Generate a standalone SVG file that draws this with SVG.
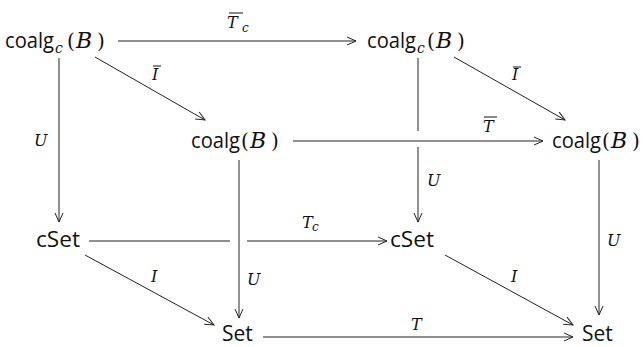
<svg xmlns="http://www.w3.org/2000/svg" width="643" height="347" viewBox="0 0 643 347">
<style>
.sans{font-family:"Open Sans","Liberation Sans",sans-serif;font-size:21px;fill:#111}
.math{font-family:"DejaVu Serif","Liberation Serif",serif;font-style:italic;font-size:22px;fill:#111}
.up{font-family:"DejaVu Serif","Liberation Serif",serif;font-style:normal;font-size:20px;fill:#111}
.sub{font-family:"DejaVu Serif","Liberation Serif",serif;font-style:italic;font-size:14px;fill:#111}
.lbl{font-family:"DejaVu Serif","Liberation Serif",serif;font-style:italic;font-size:16px;fill:#111}
.lsub{font-family:"DejaVu Serif","Liberation Serif",serif;font-style:italic;font-size:12px;fill:#111}
.edge{stroke:#222;stroke-width:1;fill:none}
.bar{stroke:#111;stroke-width:1}
</style>
<defs>
<marker id="arr" markerUnits="userSpaceOnUse" markerWidth="14" markerHeight="12" viewBox="-10 -6 12 12" refX="0" refY="0" orient="auto">
<path d="M-9,-4 L0,0 L-9,4" fill="none" stroke="#222" stroke-width="1"/>
</marker>
</defs>

<g id="connectors">
<path class="edge" d="M118,41 H356" marker-end="url(#arr)"/>
<path class="edge" d="M95,57 L205,120" marker-end="url(#arr)"/>
<path class="edge" d="M454,57 L565,120" marker-end="url(#arr)"/>
<path class="edge" d="M59,58 V222" marker-end="url(#arr)"/>
<path class="edge" d="M418,58 V131"/>
<path class="edge" d="M418,147 V222" marker-end="url(#arr)"/>
<path class="edge" d="M293,141 H543" marker-end="url(#arr)"/>
<path class="edge" d="M239,160 V318" marker-end="url(#arr)"/>
<path class="edge" d="M599,160 V315" marker-end="url(#arr)"/>
<path class="edge" d="M89,241 H230"/>
<path class="edge" d="M247,241 H387" marker-end="url(#arr)"/>
<path class="edge" d="M85,255 L214,325" marker-end="url(#arr)"/>
<path class="edge" d="M445,255 L573,325" marker-end="url(#arr)"/>
<path class="edge" d="M263,337 H573" marker-end="url(#arr)"/>

<g id="labels">
<text class="lbl" x="227" y="28">T</text><text class="lsub" x="242" y="32">c</text>
<line class="bar" x1="229" y1="13" x2="243" y2="13"/>
<text class="lbl" x="152" y="80">I</text>
<line class="bar" x1="153" y1="66" x2="161" y2="66"/>
<text class="lbl" x="512" y="80">I</text>
<line class="bar" x1="513" y1="67" x2="521" y2="67"/>
<text class="lbl" x="483" y="132">T</text>
<line class="bar" x1="484" y1="117" x2="497" y2="117"/>
<text class="lbl" x="34" y="146">U</text>
<text class="lbl" x="427" y="186">U</text>
<text class="lbl" x="302" y="228">T</text><text class="lsub" x="312" y="231">c</text>
<text class="lbl" x="247" y="285">U</text>
<text class="lbl" x="151" y="282">I</text>
<text class="lbl" x="511" y="282">I</text>
<text class="lbl" x="411" y="330">T</text>
<text class="lbl" x="607" y="246">U</text>
</g>
</g>

<g id="n_coalgc_tl"><text x="5" y="48"><tspan class="sans" textLength="49" lengthAdjust="spacingAndGlyphs">coalg</tspan><tspan class="sub" x="55" y="53">c</tspan><tspan class="up" x="67" y="48">(</tspan><tspan class="math" x="76" y="48">B</tspan><tspan class="up" x="97" y="48">)</tspan></text></g>
<g id="n_coalgc_tr"><text x="367" y="48"><tspan class="sans" textLength="49" lengthAdjust="spacingAndGlyphs">coalg</tspan><tspan class="sub" x="417" y="53">c</tspan><tspan class="up" x="427" y="48">(</tspan><tspan class="math" x="436" y="48">B</tspan><tspan class="up" x="457" y="48">)</tspan></text></g>
<g id="n_coalg_m"><text x="191" y="148"><tspan class="sans" textLength="49" lengthAdjust="spacingAndGlyphs">coalg</tspan><tspan class="up" x="241" y="148">(</tspan><tspan class="math" x="250" y="148">B</tspan><tspan class="up" x="271" y="148">)</tspan></text></g>
<g id="n_coalg_r"><text x="552" y="148"><tspan class="sans" textLength="49" lengthAdjust="spacingAndGlyphs">coalg</tspan><tspan class="up" x="602" y="148">(</tspan><tspan class="math" x="611" y="148">B</tspan><tspan class="up" x="632" y="148">)</tspan></text></g>
<g id="n_cset_l"><text class="sans" x="36" y="247" textLength="44" lengthAdjust="spacingAndGlyphs">cSet</text></g>
<g id="n_cset_m"><text class="sans" x="390" y="247" textLength="44" lengthAdjust="spacingAndGlyphs">cSet</text></g>
<g id="n_set_b"><text class="sans" x="222" y="341">Set</text></g>
<g id="n_set_r"><text class="sans" x="582" y="341">Set</text></g>
</svg>
